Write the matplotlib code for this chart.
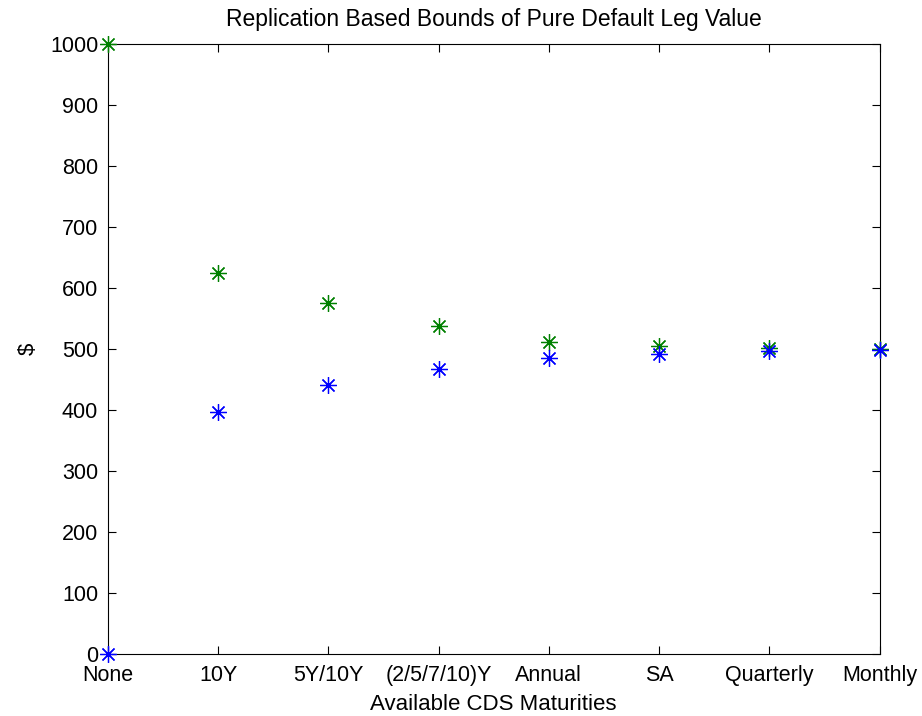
import matplotlib
matplotlib.use("Agg")
import matplotlib.pyplot as plt

categories = ["None", "10Y", "5Y/10Y", "(2/5/7/10)Y", "Annual", "SA", "Quarterly", "Monthly"]
upper_bound = [1000, 625, 575, 537, 511, 505, 502, 500]
lower_bound = [0, 396, 441, 467, 486, 492, 497, 499]

plt.rcParams["font.family"] = ["Liberation Sans", "DejaVu Sans"]

fig = plt.figure(figsize=(9.22, 7.16), dpi=100)
ax = fig.add_axes([0.117, 0.0866, 0.837, 0.852])

x = list(range(len(categories)))
asterisk = (8, 2, 0)
ax.plot(x, upper_bound, linestyle="none", marker=asterisk, markersize=12,
        markeredgewidth=0.9, color=(0, 0.5, 0), clip_on=False, zorder=3)
ax.plot(x, lower_bound, linestyle="none", marker=asterisk, markersize=12,
        markeredgewidth=0.9, color=(0, 0, 1), clip_on=False, zorder=3)

ax.set_xlim(0, len(categories) - 1)
ax.set_ylim(0, 1000)
ax.set_xticks(x)
ax.set_xticklabels(categories)
ax.set_yticks(range(0, 1001, 100))
ax.tick_params(direction="in", top=True, right=True, labelsize=15.5, length=6)
ax.tick_params(axis="x", pad=8)
ax.tick_params(axis="y", pad=7)
ax.set_xlabel("Available CDS Maturities", fontsize=16, labelpad=6)
ax.set_ylabel("$", fontsize=16, labelpad=8)
ax.set_title("Replication Based Bounds of Pure Default Leg Value", fontsize=16.5, pad=13)

fig.savefig("out.png", dpi=100)
